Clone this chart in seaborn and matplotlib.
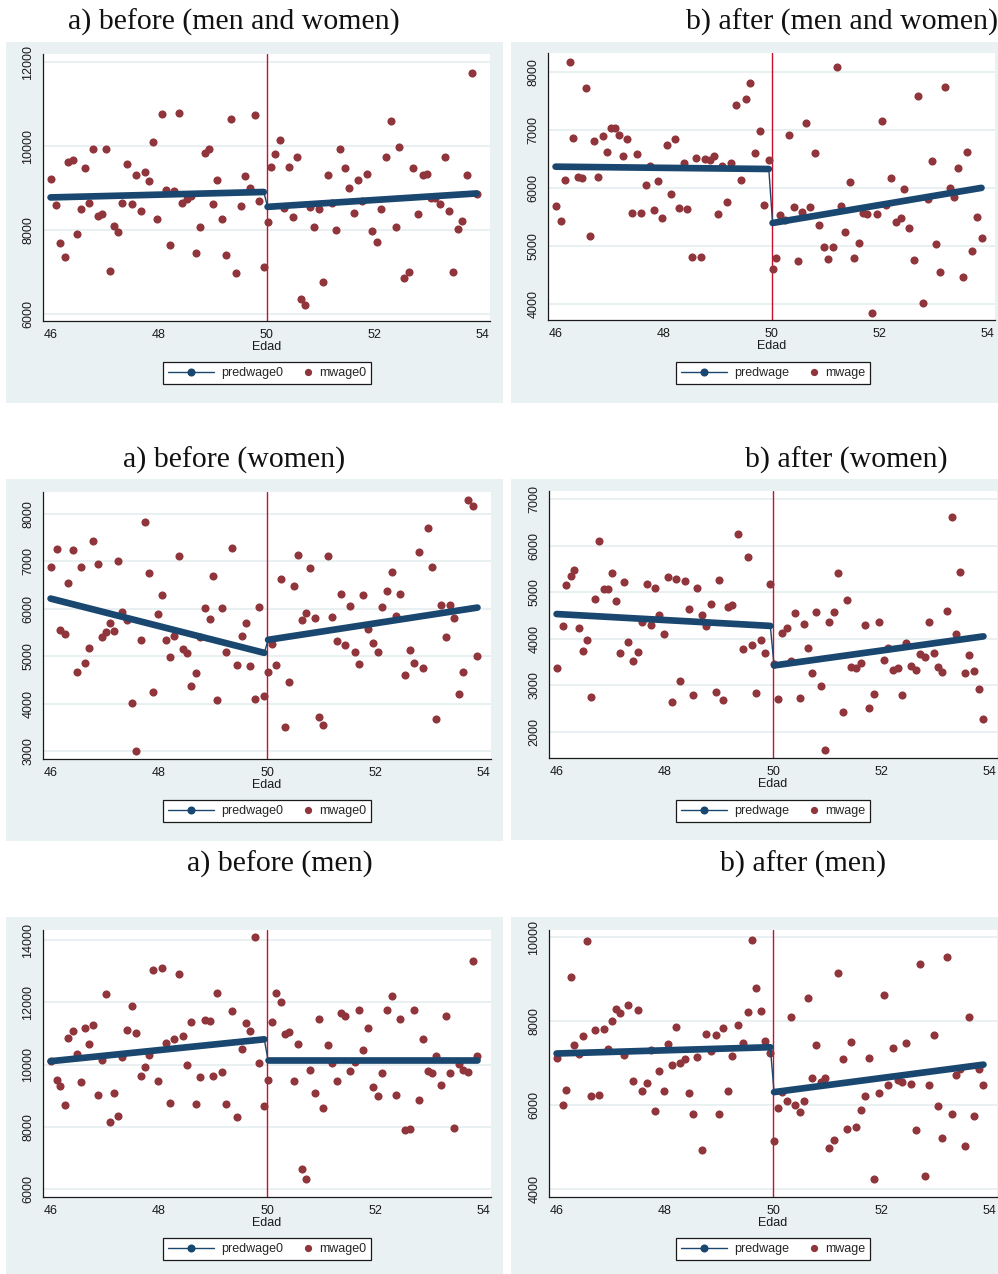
import matplotlib
matplotlib.use("Agg")
import matplotlib.pyplot as plt
from matplotlib.lines import Line2D
from matplotlib.legend_handler import HandlerLine2D
from matplotlib.patches import Rectangle
import pandas as pd
import seaborn as sns

sns.set_theme(style="white")
plt.rcParams["font.family"] = ["Liberation Sans", "DejaVu Sans"]

# ---- data -------------------------------------------------------------
edad_antes = [
    46.00, 46.11, 46.17, 46.26, 46.32, 46.41, 46.49, 46.56, 46.63, 46.71,
    46.79, 46.87, 46.95, 47.03, 47.10, 47.17, 47.24, 47.32, 47.42, 47.50,
    47.58, 47.67, 47.75, 47.82, 47.90, 47.98, 48.06, 48.14, 48.21, 48.29,
    48.37, 48.44, 48.52, 48.60, 48.69, 48.77, 48.86, 48.94, 49.01, 49.08,
    49.17, 49.25, 49.35, 49.44, 49.53, 49.61, 49.69, 49.78, 49.86, 49.95,
]
edad_despues = [
    50.02, 50.09, 50.16, 50.25, 50.33, 50.41, 50.49, 50.57, 50.64, 50.72,
    50.80, 50.88, 50.97, 51.04, 51.13, 51.21, 51.29, 51.37, 51.45, 51.53,
    51.63, 51.70, 51.77, 51.86, 51.96, 52.05, 52.13, 52.21, 52.31, 52.39,
    52.46, 52.55, 52.64, 52.72, 52.81, 52.89, 52.97, 53.05, 53.13, 53.22,
    53.30, 53.38, 53.46, 53.55, 53.63, 53.72, 53.80, 53.89,
]

# before (men and women)
mwage0_todos = [
    9220, 8590, 7680, 7360, 9620, 9680, 7910, 8490, 9470, 8650,
    9940, 8320, 8380, 9940, 7010, 8090, 7940, 8640, 9570, 8630,
    9320, 8450, 9390, 9160, 10090, 8260, 10770, 8960, 7640, 8920,
    10790, 8650, 8740, 8820, 7460, 8060, 9830, 9930, 8620, 9200,
    8270, 7400, 10650, 6980, 8580, 9290, 8990, 10740, 8690, 7120,
    8180, 9490, 9820, 10140, 8520, 9510, 8300, 9750, 6340, 6200,
    8540, 8070, 8490, 6750, 9320, 8650, 8000, 9940, 9480, 9010,
    8410, 9200, 8690, 9330, 7970, 7720, 8510, 9740, 10610, 8060,
    9990, 6850, 7000, 9480, 8390, 9320, 9330, 8760, 8770, 8610,
    9750, 8450, 7000, 8010, 8210, 9320, 11750, 8860,
]
pred0_todos = [8775, 8905, 8550, 8870]

# after (men and women)
mwage_todos = [
    5700, 5430, 6140, 8180, 6860, 6200, 6170, 7720, 5170, 6820,
    6200, 6890, 6630, 7030, 7040, 6910, 6550, 6850, 5570, 6580,
    5580, 6060, 6390, 5630, 6120, 5480, 6740, 5900, 6850, 5660,
    6440, 5640, 4820, 6520, 4810, 6510, 6480, 6560, 5560, 6380,
    5760, 6430, 7430, 6140, 7540, 7810, 6610, 6980, 5710, 6480,
    4610, 4790, 5540, 5450, 6910, 5670, 4740, 5590, 7120, 5670,
    6600, 5370, 4980, 4780, 4980, 8080, 5700, 5240, 6100, 4800,
    5050, 5570, 5550, 3850, 5550, 7160, 5710, 6180, 5410, 5480,
    5990, 5310, 4760, 7590, 4020, 5810, 6470, 5040, 4560, 7740,
    6010, 5850, 6350, 4470, 6630, 4920, 5500, 5150,
]
pred_todos = [6370, 6330, 5400, 6005]

# before (women)
mwage0_mujeres = [
    6880, 7260, 5560, 5460, 6550, 7230, 4660, 6890, 4860, 5180,
    7420, 6940, 5400, 5520, 5690, 5540, 7010, 5940, 5760, 4020,
    3010, 5350, 7840, 6760, 4240, 5890, 6290, 5340, 4990, 5430,
    7120, 5160, 5070, 4380, 4650, 5400, 6010, 5790, 6690, 4080,
    6010, 5090, 7280, 4810, 5420, 5690, 4790, 4090, 6030, 4160,
    4660, 5250, 4810, 6620, 3510, 4450, 6470, 7140, 5770, 5910,
    6860, 5800, 3720, 3540, 7120, 5820, 5310, 6310, 5230, 6050,
    5080, 4840, 6290, 5580, 5270, 5090, 6040, 6380, 6770, 5840,
    6320, 4610, 5140, 4850, 7190, 4740, 7710, 6880, 3670, 6080,
    5410, 6080, 5810, 4200, 4660, 8300, 8160, 5000,
]
pred0_mujeres = [6215, 5070, 5345, 6025]

# after (women)
mwage_mujeres = [
    3370, 4270, 5160, 5350, 5490, 4230, 3730, 3970, 2750, 4860,
    6110, 5080, 5080, 5410, 4810, 3700, 5220, 3930, 3530, 3720,
    4370, 5170, 4290, 5100, 4510, 4100, 5320, 2650, 5290, 3090,
    5240, 4640, 2790, 5090, 4520, 4280, 4750, 2870, 5260, 2690,
    4680, 4730, 6250, 3780, 5760, 3870, 2840, 3970, 3700, 5180,
    3460, 2710, 4130, 4230, 3520, 4550, 2740, 4320, 3810, 3270,
    4580, 2980, 1610, 4370, 4580, 5410, 2430, 4830, 3390, 3370,
    3490, 4300, 2510, 2820, 4360, 3540, 3800, 3330, 3370, 2790,
    3910, 3420, 3340, 3670, 3620, 4360, 3700, 3390, 3300, 4590,
    6610, 4100, 5430, 3270, 3650, 3310, 2920, 2270,
]
pred_mujeres = [4535, 4280, 3430, 4055]

# before (men)
mwage0_hombres = [
    10110, 9500, 9320, 8690, 10860, 11080, 10330, 9430, 11170, 10650,
    11270, 9010, 10140, 12270, 8170, 9100, 8350, 10230, 11110, 11900,
    11020, 9630, 9920, 10320, 13030, 9490, 13120, 10690, 8770, 10810,
    12900, 10910, 9980, 11380, 8730, 9600, 11440, 11410, 9650, 12320,
    9750, 8740, 11710, 8320, 10490, 11330, 11090, 14090, 10050, 8670,
    9500, 11380, 12290, 12010, 10980, 11040, 9460, 10670, 6650, 6330,
    9830, 9100, 11460, 8610, 10640, 10060, 9470, 11650, 11570, 9780,
    10090, 11770, 10470, 11170, 9280, 8980, 9740, 11760, 12210, 9020,
    11460, 7910, 7930, 11750, 8870, 10820, 9790, 9740, 10280, 9360,
    11560, 9740, 7960, 10030, 9820, 9770, 13330, 10280,
]
pred0_hombres = [10110, 10815, 10135, 10135]

# after (men)
mwage_hombres = [
    7130, 6000, 6360, 9060, 7430, 7220, 7650, 9910, 6220, 7790,
    6250, 7810, 7330, 8010, 8300, 8200, 7190, 8390, 6580, 8260,
    6330, 6520, 7310, 5850, 6820, 6340, 7450, 6950, 7860, 7000,
    7100, 6290, 5790, 7140, 4930, 7690, 7290, 7670, 5790, 7830,
    6330, 7160, 7910, 7480, 8210, 9930, 8780, 8250, 7520, 7250,
    5140, 5930, 6310, 6110, 8100, 6010, 5830, 6100, 8560, 6650,
    7430, 6550, 6640, 4980, 5170, 9140, 7110, 5440, 7500, 5480,
    5890, 6210, 7130, 4250, 6280, 8620, 6490, 7370, 6600, 6540,
    7480, 6500, 5410, 9370, 4310, 6480, 7680, 5980, 5210, 9520,
    5790, 6710, 6870, 5030, 8100, 5750, 6860, 6480,
]
pred_hombres = [7230, 7380, 6310, 6965]

titulos = ["a) before (men and women)", "b) after (men and women)",
           "a) before (women)", "b) after (women)",
           "a) before (men)", "b) after (men)"]
yticks = [[6000, 8000, 10000, 12000],
          [4000, 5000, 6000, 7000, 8000],
          [3000, 4000, 5000, 6000, 7000, 8000],
          [2000, 3000, 4000, 5000, 6000, 7000],
          [6000, 8000, 10000, 12000, 14000],
          [4000, 6000, 8000, 10000]]
xticks = [46, 48, 50, 52, 54]

# ---- layout (pixels) --------------------------------------------------
W, H = 998, 1274
BG = "#EAF1F3"
NAVY = "#1A476F"
MAROON = "#90353B"
RED = "#C8102E"
INK = "#1A1A1A"

paneles = [
    dict(y=mwage0_todos, pred=pred0_todos, etq="0", ylim=(5826, 12198),
         box=(6, 42, 503, 403), ax=(43, 54, 490, 321), title=(234, 22), leg=(267, 373)),
    dict(y=mwage_todos, pred=pred_todos, etq="", ylim=(3729, 8328),
         box=(511, 42, 998, 403), ax=(548, 53, 995, 320), title=(842, 22), leg=(773, 373)),
    dict(y=mwage0_mujeres, pred=pred0_mujeres, etq="0", ylim=(2831, 8463),
         box=(6, 479, 503, 841), ax=(43, 492, 491, 759), title=(234, 460), leg=(267, 811)),
    dict(y=mwage_mujeres, pred=pred_mujeres, etq="", ylim=(1442, 7178),
         box=(511, 479, 998, 840), ax=(549, 491, 997, 758), title=(846, 460), leg=(773, 811)),
    dict(y=mwage0_hombres, pred=pred0_hombres, etq="0", ylim=(5743, 14331),
         box=(6, 917, 503, 1274), ax=(43, 930, 491, 1197), title=(280, 864), leg=(267, 1249)),
    dict(y=mwage_hombres, pred=pred_hombres, etq="", ylim=(3810, 10174),
         box=(511, 917, 998, 1274), ax=(549, 930, 997, 1197), title=(803, 864), leg=(773, 1249)),
]


class PuntoDerecha(HandlerLine2D):
    """Legend handler that puts a lone marker at the right end of its slot."""

    def create_artists(self, legend, orig_handle, xdescent, ydescent,
                       width, height, fontsize, trans):
        arts = super().create_artists(legend, orig_handle, xdescent, ydescent,
                                      width, height, fontsize, trans)
        for a in arts:
            n = len(a.get_xdata())
            a.set_xdata([width - xdescent - 0.3 * fontsize] * n)
        return arts


fig = plt.figure(figsize=(W / 100, H / 100), dpi=100)
fig.patch.set_facecolor("white")

edad = edad_antes + edad_despues

for i, p in enumerate(paneles):
    x0, y0, x1, y1 = p["box"]
    fig.patches.append(Rectangle((x0 / W, 1 - y1 / H), (x1 - x0) / W, (y1 - y0) / H,
                                 transform=fig.transFigure, facecolor=BG,
                                 edgecolor="none", zorder=-5))
    fig.text(p["title"][0] / W, 1 - p["title"][1] / H, titulos[i],
             ha="center", va="center", fontsize=21.5, color="#111111",
             family=["Liberation Serif", "DejaVu Serif"])

    l, t, r, b = p["ax"]
    ax = fig.add_axes([l / W, 1 - b / H, (r - l) / W, (b - t) / H])
    ax.set_facecolor("white")

    df = pd.DataFrame({"Edad": edad, "mwage": p["y"]})
    pr = p["pred"]

    ax.axvline(50, color=RED, lw=1.0, zorder=2)

    sns.scatterplot(data=df, x="Edad", y="mwage", color=MAROON, s=34,
                    linewidth=0, ax=ax, legend=False, zorder=4)

    # fitted wage: two linear pieces joined by a thin connector
    xa = [edad_antes[0], edad_antes[-1]]
    xd = [edad_despues[0], edad_despues[-1]]
    sns.lineplot(x=[xa[1], xd[0]], y=[pr[1], pr[2]], color=NAVY, lw=1.0,
                 estimator=None, sort=False, ax=ax, zorder=5)
    for xs, ys in ((xa, pr[0:2]), (xd, pr[2:4])):
        sns.lineplot(x=xs, y=ys, color=NAVY, lw=4.8, estimator=None, sort=False,
                     solid_capstyle="round", ax=ax, zorder=5)

    ax.set_xlim(45.86, 54.14)
    ax.set_ylim(*p["ylim"])
    ax.set_xticks(xticks)
    ax.set_yticks(yticks[i])
    ax.set_yticklabels([str(v) for v in yticks[i]], rotation=90, va="center")
    ax.yaxis.grid(True, color="#E3ECEF", lw=1.1)
    ax.xaxis.grid(False)
    ax.set_axisbelow(True)
    for s in ("top", "right"):
        ax.spines[s].set_visible(False)
    for s in ("left", "bottom"):
        ax.spines[s].set_color(INK)
        ax.spines[s].set_linewidth(0.9)
    ax.tick_params(axis="both", direction="out", length=3.6, width=0.8,
                   color=INK, labelsize=9, labelcolor=INK, pad=2.5)
    ax.set_xlabel("Edad", fontsize=9, color=INK, labelpad=0)
    ax.set_ylabel("")

    h_pred = Line2D([], [], color=NAVY, lw=1.0, marker="o", markersize=4.8)
    h_obs = Line2D([], [], color=MAROON, lw=0, marker="o", markersize=4.2)
    leg = ax.legend([h_pred, h_obs], ["predwage" + p["etq"], "mwage" + p["etq"]],
                    handler_map={h_obs: PuntoDerecha()},
                    ncol=2, loc="center",
                    bbox_to_anchor=(p["leg"][0] / W, 1 - p["leg"][1] / H),
                    bbox_transform=fig.transFigure, fontsize=9,
                    frameon=True, fancybox=False, framealpha=1,
                    edgecolor=INK, handlelength=3.7, handletextpad=0.55,
                    columnspacing=-1.4, borderpad=0.4, borderaxespad=0)
    leg.get_frame().set_linewidth(0.9)

fig.savefig("out.png", dpi=100, facecolor="white")
